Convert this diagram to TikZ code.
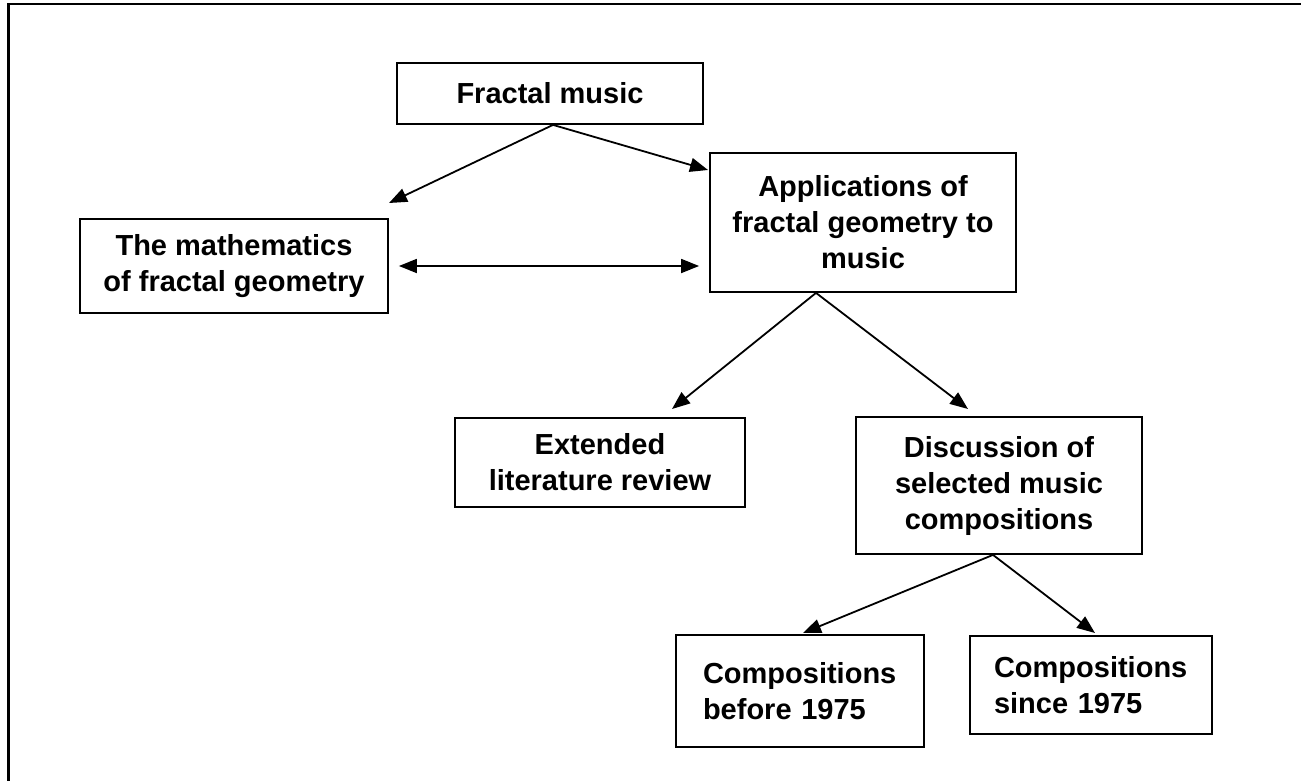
\documentclass[tikz,border=0pt]{standalone}
\usepackage{fontspec}
\setmainfont{Liberation Sans}
\usetikzlibrary{arrows.meta}
\usetikzlibrary{calc,positioning}

\begin{document}
\begin{tikzpicture}[x=0.5pt, y=-0.5pt,
        topic/.style={rectangle, draw=black, line width=0.9pt, text=black,
        align=center, inner sep=0pt, font=\fontsize{14.5}{18}\selectfont\bfseries},
        period/.style={topic, align=left, text width=97pt},
        link/.style={line width=0.9pt, -{Triangle[length=9pt,width=7pt]}},
        twoway/.style={line width=0.9pt, {Triangle[length=9pt,width=7pt]}-{Triangle[length=9pt,width=7pt]}}]
        \useasboundingbox (0,0) rectangle (1301,781);
        % page frame, only its left and top sides show
        \draw[line width=1.1pt] (8.5,781) -- (8.5,4) -- (1301,4);

        \node [topic, minimum width=153pt, minimum height=30.5pt] (fractal) at (550,93.5) {Fractal music};
        \node [topic, minimum width=154pt, minimum height=47pt] (maths) at (234,266)
            {The mathematics\\of fractal geometry};
        \node [topic, minimum width=153pt, minimum height=69.5pt] (apps) at (863,222.5)
            {Applications of\\fractal geometry to\\music};
        \node [topic, minimum width=145pt, minimum height=44.5pt] (review) at (600,462.5)
            {Extended\\literature review};
        \node [topic, minimum width=143pt, minimum height=68.5pt] (discuss) at (999,485.5)
            {Discussion of\\selected music\\compositions};
        \node [period, minimum width=124pt, minimum height=56pt] (before) at (800,691)
            {Compositions\\before 1975};
        \node [period, minimum width=121pt, minimum height=49pt] (since) at (1091,685)
            {Compositions\\since 1975};

        % free arrow ends
        \coordinate (mathstip) at (389,203);
        \coordinate (appstip) at (708,170);
        \coordinate (reviewtip) at (672,409);
        \coordinate (discusstip) at (968,409);
        \coordinate (beforetip) at (803,633);
        \coordinate (sincetip) at (1095,633);

        \draw [link] ([xshift=1.5pt]fractal.south) -- (mathstip);
        \draw [link] ([xshift=1.5pt]fractal.south) -- (appstip);
        \draw [twoway] ($(maths.east)+(10,0)$) -- ($(maths.east -| apps.west)+(-10,0)$);
        \draw [link] ([xshift=-23.5pt]apps.south) -- (reviewtip);
        \draw [link] ([xshift=-23.5pt]apps.south) -- (discusstip);
        \draw [link] ([xshift=-3pt]discuss.south) -- (beforetip);
        \draw [link] ([xshift=-3pt]discuss.south) -- (sincetip);
\end{tikzpicture}
\end{document}
